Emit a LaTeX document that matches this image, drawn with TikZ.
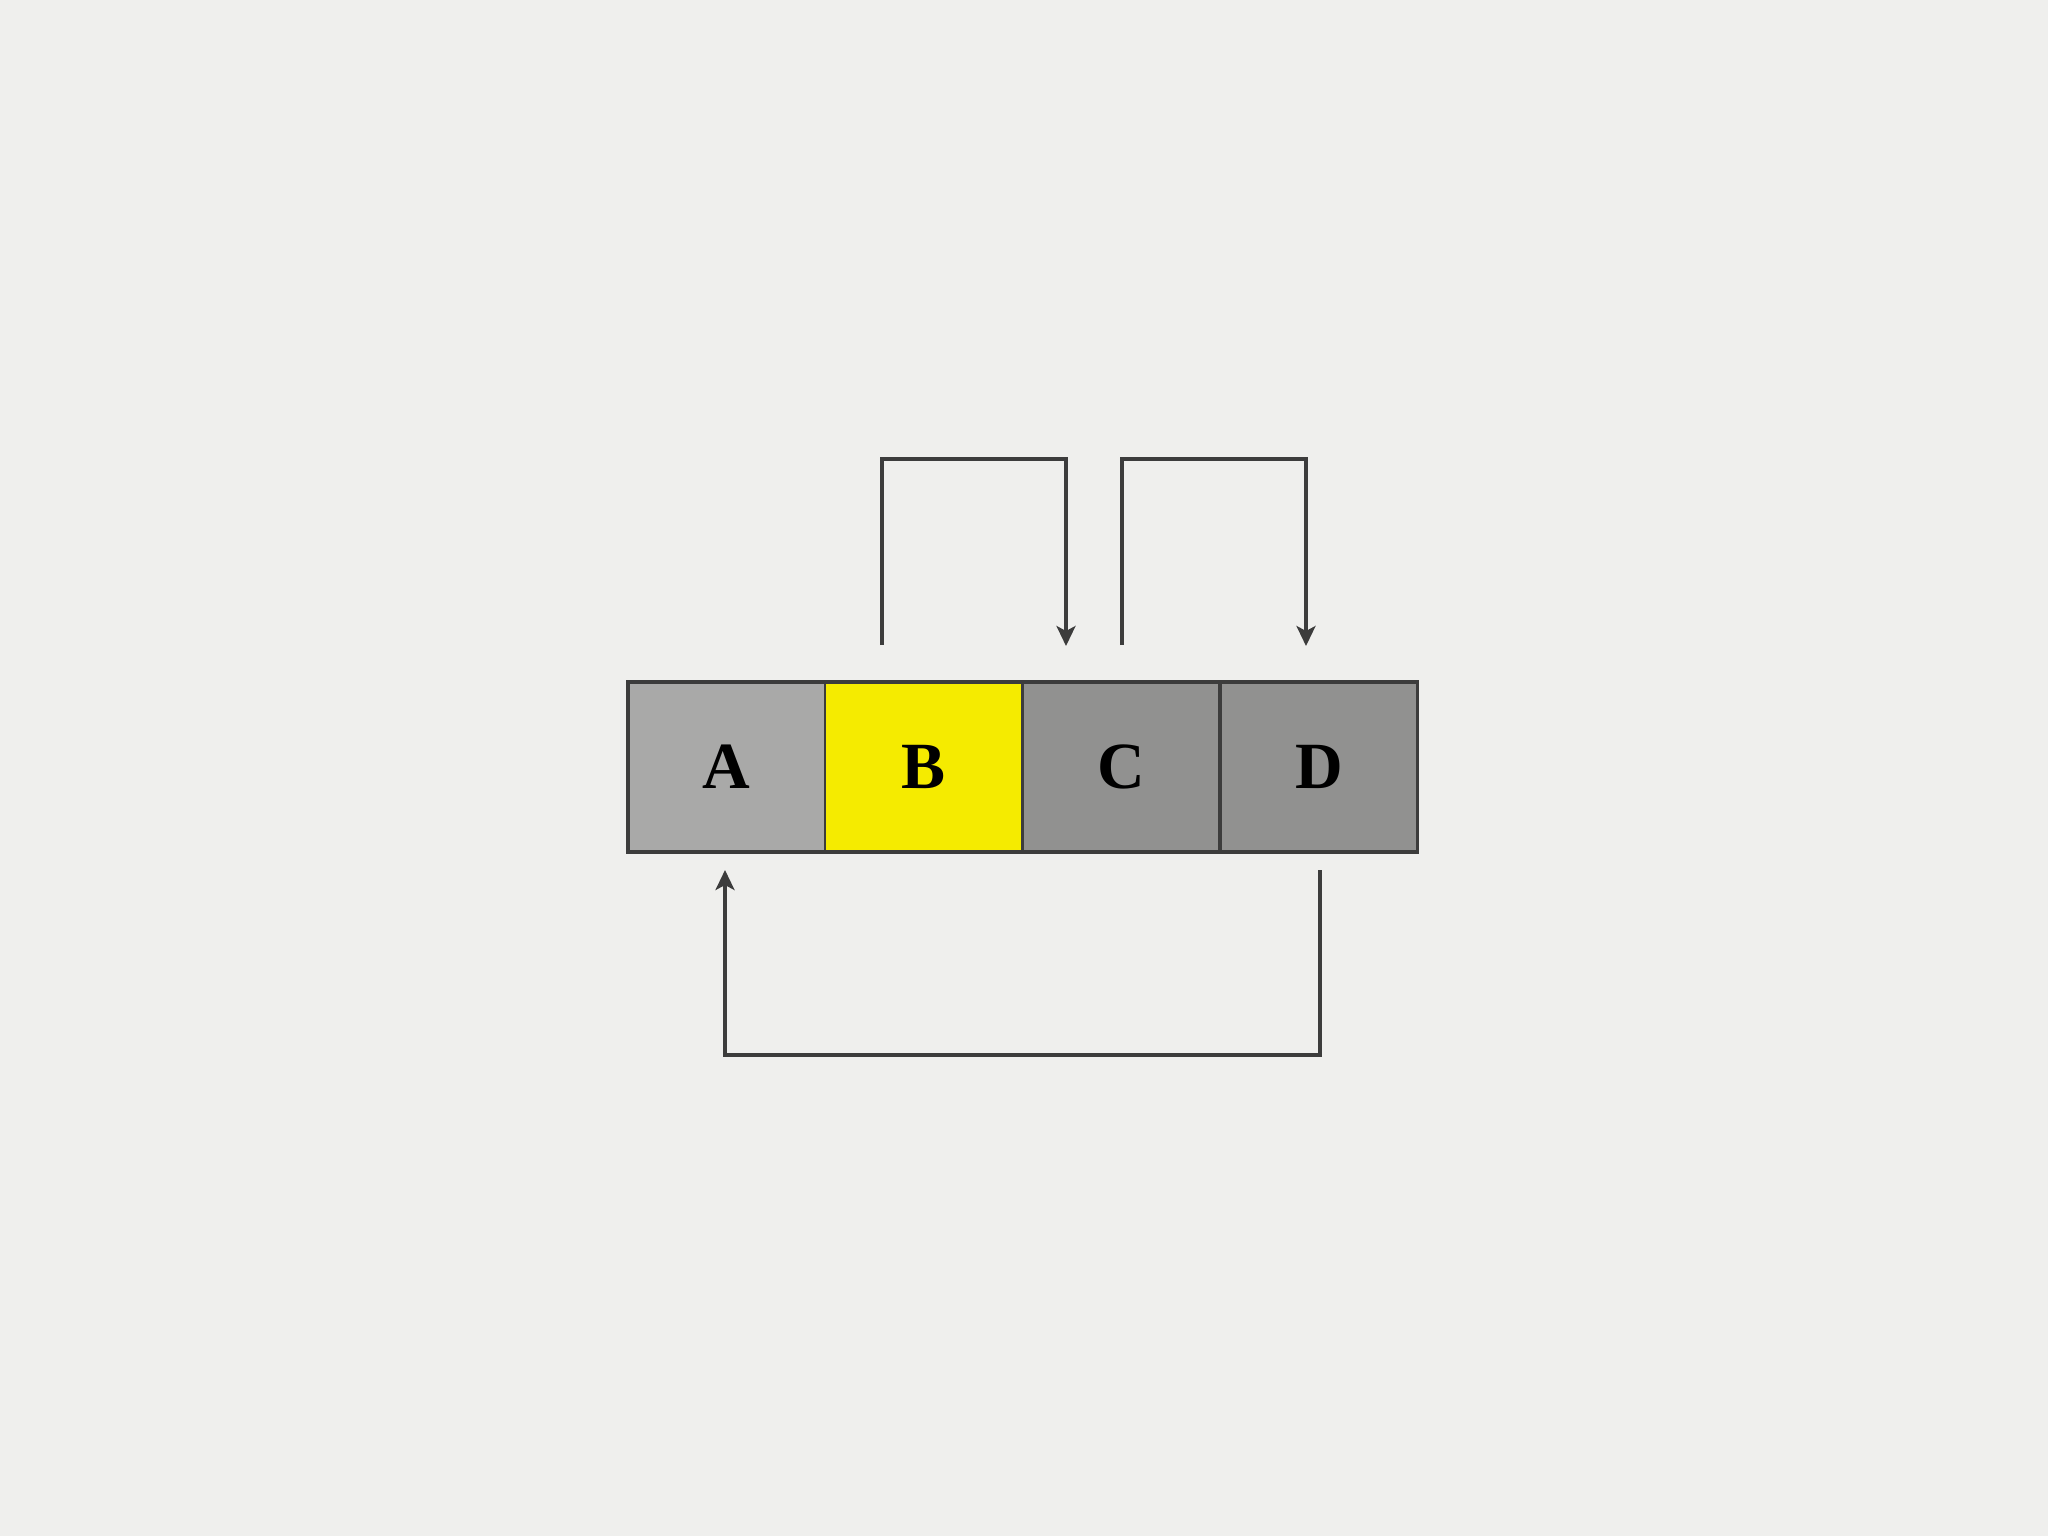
\documentclass[tikz,border=0pt]{standalone}
\usepackage{fontspec}
\setmainfont{Liberation Serif}
\usetikzlibrary{arrows.meta}
\definecolor{bgc}{HTML}{EFEFED}
\definecolor{linec}{HTML}{3C3C3C}
\definecolor{cellA}{HTML}{A9A9A8}
\definecolor{cellG}{HTML}{919190}
\definecolor{cellY}{HTML}{F5EB00}
\begin{document}
\begin{tikzpicture}[x=0.5pt,y=-0.5pt,
  cell/.style={draw=linec, line width=1.4pt, minimum width=98.5pt, minimum height=85pt,
    inner sep=0pt, outer sep=0pt, anchor=center, font=\fontsize{33}{36}\selectfont\bfseries},
  conn/.style={draw=linec, line width=1.7pt, -{Stealth[length=10pt,width=9.5pt,inset=2.5pt]}}]
\fill[bgc] (0,0) rectangle (2048,1536);
\useasboundingbox (0,0) rectangle (2048,1536);
\node[cell, fill=cellA] (A) at (726.5,767) {A};
\node[cell, fill=cellY] (B) at (923.5,767) {B};
\node[cell, fill=cellG] (C) at (1121,767) {C};
\node[cell, fill=cellG] (D) at (1319,767) {D};
\draw[draw=linec, line width=1.8pt] (A.north west) rectangle (D.south east);
\coordinate (s1) at (882,645);
\coordinate (e1) at (1066,646);
\coordinate (s2) at (1122,645);
\coordinate (e2) at (1306,646);
\coordinate (s3) at (1320,870);
\coordinate (e3) at (725,870);
\draw[conn] (s1) -- (882,459) -- (1066,459) -- (e1);
\draw[conn] (s2) -- (1122,459) -- (1306,459) -- (e2);
\draw[conn] (s3) -- (1320,1055) -- (725,1055) -- (e3);
\end{tikzpicture}
\end{document}
